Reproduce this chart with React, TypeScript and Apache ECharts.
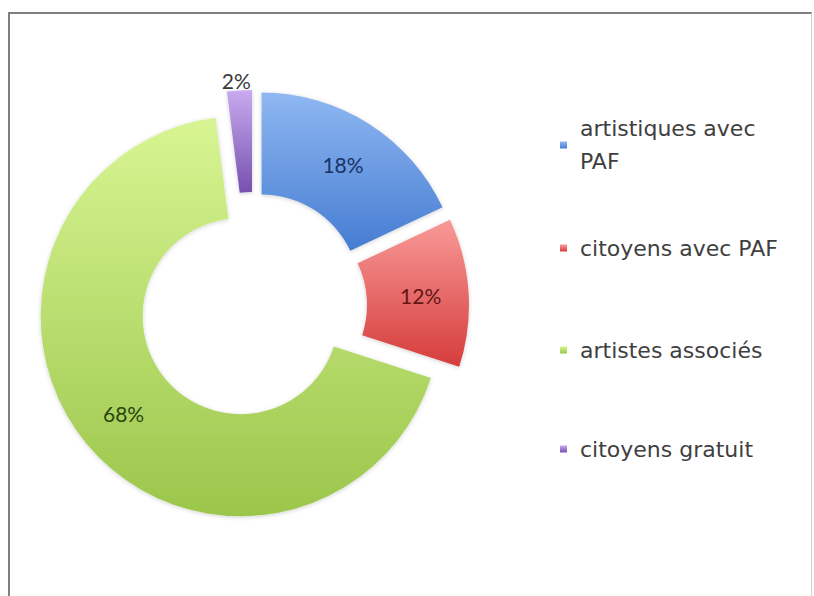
import React, { useEffect, useRef } from 'react';
import * as echarts from 'echarts';

const categories = ['artistiques avec PAF', 'citoyens avec PAF', 'artistes associés', 'citoyens gratuit'];
const values = [18, 12, 68, 2];
const topColors = ['#8FB8F2', '#F89A98', '#D8F593', '#C9AAF0'];
const bottomColors = ['#467CD2', '#D63C3C', '#9BC64B', '#7650AE'];
const labelColors = ['#1A3366', '#631616', '#2A4510', '#3a3a3a'];
const legendCenters = [145, 248, 350, 449];

export default function App() {
  const ref = useRef<HTMLDivElement>(null);
  useEffect(() => {
    const chart = echarts.init(ref.current!, null, { renderer: 'svg' });
    const data = categories.map((name, i) => ({
      name,
      value: values[i],
      selected: true,
      itemStyle: {
        color: new echarts.graphic.LinearGradient(0, 0, 0, 1, [
          { offset: 0, color: topColors[i] },
          { offset: 1, color: bottomColors[i] },
        ]),
      },
      label:
        i === 3
          ? { position: 'outside', color: labelColors[i], distanceToLabelLine: -12 }
          : { position: 'inside', color: labelColors[i] },
      labelLine: { show: false, length: 10, length2: 0 },
    }));
    chart.setOption({
      animation: false,
      backgroundColor: '#ffffff',
      graphic: [
        { type: 'line', shape: { x1: 8, y1: 13, x2: 812, y2: 13 }, style: { stroke: '#808080', lineWidth: 2 } },
        { type: 'line', shape: { x1: 9, y1: 13, x2: 9, y2: 600 }, style: { stroke: '#808080', lineWidth: 2 } },
        { type: 'line', shape: { x1: 811.5, y1: 13, x2: 811.5, y2: 600 }, style: { stroke: '#d0d0d0', lineWidth: 1 } },
      ],
      legend: categories.map((name, i) => ({
        data: [name],
        left: 560,
        top: i === 0 ? legendCenters[i] - 49.5 : legendCenters[i] - 16.5,
        orient: 'vertical',
        padding: 0,
        itemWidth: 7,
        itemHeight: 7,
        icon: 'rect',
        selectedMode: false,
        formatter: (n: string) => (n === 'artistiques avec PAF' ? 'artistiques avec\nPAF' : n),
        textStyle: {
          fontFamily: 'DejaVu Sans',
          fontSize: 22,
          color: '#3f3f3f',
          lineHeight: 33,
          padding: i === 0 ? [33, 0, 0, 8] : [0, 0, 0, 8],
        },
      })),
      series: [
        {
          type: 'pie',
          center: [253, 306],
          radius: [98, 200],
          startAngle: 90,
          clockwise: true,
          selectedMode: 'multiple',
          selectedOffset: 16,
          avoidLabelOverlap: false,
          emphasis: { disabled: true },
          label: {
            show: true,
            formatter: '{d}%',
            fontFamily: 'Lato',
            fontSize: 21,
          },
          itemStyle: {
            shadowBlur: 4,
            shadowColor: 'rgba(0,0,0,0.18)',
            shadowOffsetY: 1,
          },
          data,
        },
      ],
    });
    return () => chart.dispose();
  }, []);
  return <div ref={ref} style={{ position: 'absolute', left: 0, top: 0, width: 814, height: 596 }} />;
}
